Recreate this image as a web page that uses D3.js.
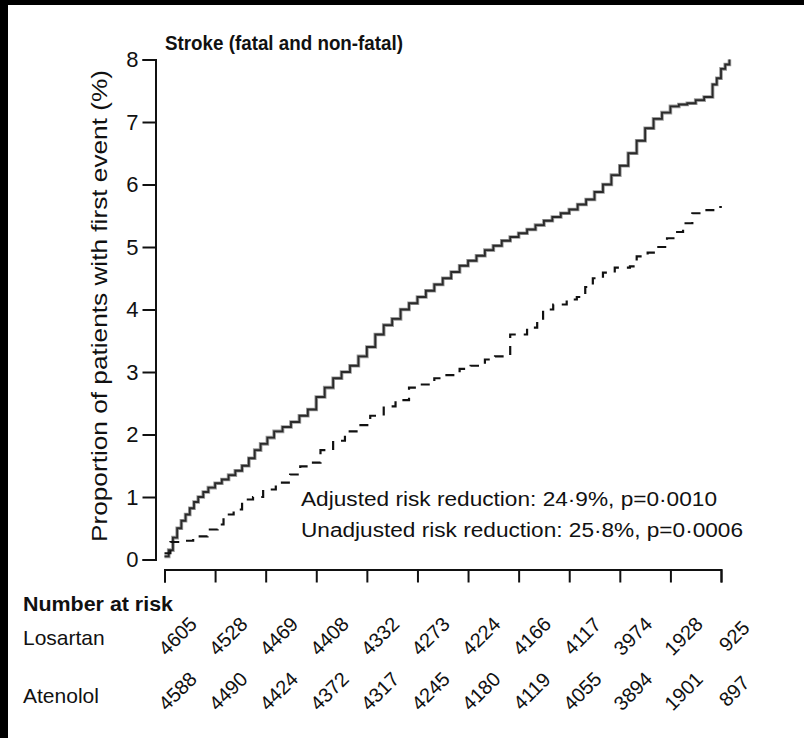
<!DOCTYPE html>
<html>
<head>
<meta charset="utf-8">
<script src="https://cdn.jsdelivr.net/npm/d3@7/dist/d3.min.js"></script>
<style>
  html, body { margin: 0; padding: 0; background: #fff; }
  svg { display: block; }
  text { font-family: "Liberation Sans", Arial, Helvetica, sans-serif; fill: #111; }
</style>
</head>
<body>
<svg id="chart" width="804" height="738"></svg>
<script>
// Follow-up time (months) and cumulative stroke incidence (%) per arm
const atenololMonths = [0, 0.5, 1, 1.5, 2, 2.5, 3, 3.5, 4, 4.6, 5.2, 6, 6.8, 7.6, 8.4, 9.2, 10, 10.7, 11.4, 12.2, 13, 14, 15, 16, 17, 18, 19, 20, 21, 22, 23, 24, 25, 26, 27, 28, 29, 30, 31, 32, 33, 34, 35, 36, 37, 38, 39, 40, 41, 42, 43, 44, 45, 46, 47, 48, 49, 50, 51, 52, 53, 54, 55, 56, 57, 58, 59, 60, 61, 62, 63, 64, 65, 65.5, 66, 66.5, 67];
const atenololPct = [0.05, 0.15, 0.35, 0.5, 0.62, 0.72, 0.82, 0.92, 1.0, 1.08, 1.15, 1.22, 1.28, 1.35, 1.42, 1.5, 1.62, 1.75, 1.85, 1.95, 2.05, 2.12, 2.2, 2.3, 2.4, 2.6, 2.75, 2.9, 3.0, 3.1, 3.25, 3.4, 3.6, 3.75, 3.85, 4.0, 4.1, 4.2, 4.3, 4.4, 4.5, 4.6, 4.7, 4.78, 4.86, 4.95, 5.02, 5.1, 5.16, 5.22, 5.28, 5.35, 5.42, 5.48, 5.54, 5.6, 5.68, 5.76, 5.88, 6.0, 6.15, 6.3, 6.5, 6.7, 6.9, 7.05, 7.15, 7.25, 7.28, 7.3, 7.35, 7.4, 7.6, 7.7, 7.85, 7.92, 8.0];

const losartanMonths = [0, 0.7, 2, 3.4, 5.1, 6.3, 7, 8.2, 9.2, 10.5, 11.7, 13.2, 14.9, 16.1, 17, 18.5, 20, 21.4, 23, 24.4, 26, 27.4, 29, 30.3, 32, 33.3, 35, 36.3, 38, 39.2, 41, 43, 44.2, 44.9, 46.1, 47.7, 48.9, 49.9, 50.8, 52, 53.4, 55.2, 56, 57.3, 58.4, 59.6, 60.8, 61.5, 62.6, 63.7, 65.6, 66.1];
const losartanPct = [0.1, 0.28, 0.3, 0.37, 0.48, 0.56, 0.72, 0.8, 0.96, 1.0, 1.12, 1.23, 1.36, 1.49, 1.55, 1.75, 1.9, 2.05, 2.15, 2.3, 2.45, 2.55, 2.75, 2.8, 2.9, 2.95, 3.05, 3.1, 3.2, 3.25, 3.6, 3.71, 3.81, 4.0, 4.08, 4.16, 4.2, 4.36, 4.5, 4.59, 4.67, 4.69, 4.85, 4.91, 5.0, 5.14, 5.24, 5.38, 5.54, 5.59, 5.64, 5.64];

// Axes
const yTicks = [0, 1, 2, 3, 4, 5, 6, 7, 8];
const xTicks = [0, 6, 12, 18, 24, 30, 36, 42, 48, 54, 60, 66];

// Numbers at risk under each x tick
const riskGroups = ["Losartan", "Atenolol"];
const losartanAtRisk = [4605, 4528, 4469, 4408, 4332, 4273, 4224, 4166, 4117, 3974, 1928, 925];
const atenololAtRisk = [4588, 4490, 4424, 4372, 4317, 4245, 4180, 4119, 4055, 3894, 1901, 897];

const titleText = "Stroke (fatal and non-fatal)";
const yLabelText = "Proportion of patients with first event (%)";
const noteLines = ["Adjusted risk reduction: 24\u00b79%, p=0\u00b70010",
                   "Unadjusted risk reduction: 25\u00b78%, p=0\u00b70006"];

const svg = d3.select("#chart");

// dark frame edges
svg.append("rect").attr("x", 0).attr("y", 0).attr("width", 804).attr("height", 5).attr("fill", "#000");
svg.append("rect").attr("x", 0).attr("y", 0).attr("width", 8).attr("height", 738).attr("fill", "#000");

const x = d3.scaleLinear().domain([0, 66]).range([164.5, 721]);
const y = d3.scaleLinear().domain([0, 8]).range([559.5, 59.5]);

// y axis
const yAxis = svg.append("g")
  .attr("transform", "translate(155.5,0)")
  .call(d3.axisLeft(y).tickValues(yTicks).tickSize(13).tickPadding(4).tickFormat(d3.format("d")));
yAxis.select(".domain").attr("stroke", "#111").attr("stroke-width", 2);
yAxis.selectAll(".tick line").attr("stroke", "#111").attr("stroke-width", 2);
yAxis.selectAll(".tick text")
  .style("font-family", "'Liberation Sans', Arial, sans-serif")
  .attr("font-size", 22).attr("fill", "#111");

// x axis (detached below the plot)
const xAxis = svg.append("g")
  .attr("transform", "translate(0,569.5)")
  .call(d3.axisBottom(x).tickValues(xTicks).tickSize(13).tickFormat(""));
xAxis.select(".domain").attr("stroke", "#111").attr("stroke-width", 2);
xAxis.selectAll(".tick line").attr("stroke", "#111").attr("stroke-width", 2);

// title
svg.append("text")
  .attr("x", 165).attr("y", 50)
  .attr("font-size", 21).attr("font-weight", "bold")
  .attr("textLength", 238).attr("lengthAdjust", "spacingAndGlyphs")
  .text(titleText);

// y axis label
svg.append("text")
  .attr("transform", "translate(107,306) rotate(-90)")
  .attr("text-anchor", "middle")
  .attr("font-size", 22)
  .attr("textLength", 472).attr("lengthAdjust", "spacingAndGlyphs")
  .text(yLabelText);

// curves
const stepLine = d3.line()
  .x(d => x(d[0]))
  .y(d => y(d[1]))
  .curve(d3.curveStepAfter);

const atenolol = atenololMonths.map((m, i) => [m, atenololPct[i]]);
const losartan = losartanMonths.map((m, i) => [m, losartanPct[i]]);

svg.append("path")
  .datum(atenolol)
  .attr("d", stepLine)
  .attr("fill", "none")
  .attr("stroke", "#9a9a9a")
  .attr("stroke-width", 3.6);
svg.append("path")
  .datum(atenolol)
  .attr("d", stepLine)
  .attr("fill", "none")
  .attr("stroke", "#2a2a2a")
  .attr("stroke-width", 1.8);

svg.append("path")
  .datum(losartan)
  .attr("d", stepLine)
  .attr("fill", "none")
  .attr("stroke", "#111")
  .attr("stroke-width", 2.2)
  .attr("stroke-dasharray", "9,8");

// risk reduction notes
const noteY = [506, 537];
const noteW = [416, 442];
noteLines.forEach((t, i) => {
  svg.append("text")
    .attr("x", 301).attr("y", noteY[i])
    .attr("font-size", 20)
    .attr("textLength", noteW[i]).attr("lengthAdjust", "spacingAndGlyphs")
    .text(t);
});

// numbers at risk table
svg.append("text")
  .attr("x", 23).attr("y", 611)
  .attr("font-size", 20).attr("font-weight", "bold")
  .attr("textLength", 150).attr("lengthAdjust", "spacingAndGlyphs")
  .text("Number at risk");

const rowY = [645, 703];
const rowNumY = [641, 696];
const rows = [losartanAtRisk, atenololAtRisk];
riskGroups.forEach((g, r) => {
  svg.append("text")
    .attr("x", 23).attr("y", rowY[r])
    .attr("font-size", 21)
    .text(g);
  svg.append("g").selectAll("text")
    .data(rows[r])
    .join("text")
    .attr("text-anchor", "middle")
    .attr("font-size", 20)
    .attr("transform", (d, i) => `translate(${x(xTicks[i]) + 18},${rowNumY[r]}) rotate(-45)`)
    .text(d => d);
});
</script>
</body>
</html>
